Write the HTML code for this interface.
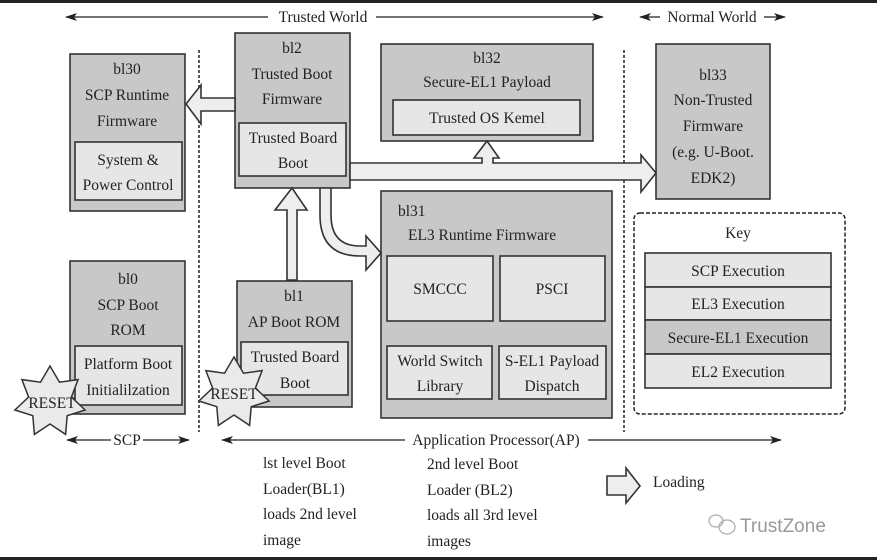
<!DOCTYPE html>
<html><head><meta charset="utf-8"><style>
html,body{margin:0;padding:0;background:#fff}
svg{display:block}
text{font-family:"Liberation Serif",serif;font-size:15.5px;fill:#222}
</style></head><body>
<svg width="877" height="560" viewBox="0 0 877 560" xmlns="http://www.w3.org/2000/svg">
<defs>
<marker id="ah" markerWidth="12" markerHeight="8" refX="11" refY="4" orient="auto-start-reverse" markerUnits="userSpaceOnUse">
<path d="M0,0 L12,4 L0,8 L3,4 Z" fill="#222"/></marker>
</defs>
<rect x="0" y="0" width="877" height="3" fill="#222"/>
<rect x="0" y="557" width="877" height="3" fill="#222"/>

<!-- world arrows -->
<line x1="66" y1="17" x2="268" y2="17" stroke="#222" stroke-width="1.2" marker-start="url(#ah)"/>
<line x1="376" y1="17" x2="603" y2="17" stroke="#222" stroke-width="1.2" marker-end="url(#ah)"/>
<text x="323" y="22" text-anchor="middle">Trusted World</text>
<line x1="640" y1="17" x2="660" y2="17" stroke="#222" stroke-width="1.2" marker-start="url(#ah)"/>
<line x1="764" y1="17" x2="785" y2="17" stroke="#222" stroke-width="1.2" marker-end="url(#ah)"/>
<text x="712" y="22" text-anchor="middle">Normal World</text>

<!-- dashed verticals -->
<line x1="199" y1="50" x2="199" y2="432" stroke="#222" stroke-width="1.5" stroke-dasharray="3,2"/>
<line x1="624" y1="50" x2="624" y2="432" stroke="#222" stroke-width="1.5" stroke-dasharray="3,2"/>

<g stroke="#333" stroke-width="1.6">
<!-- bl30 -->
<rect x="70" y="54" width="115" height="157" fill="#c8c8c8"/>
<rect x="75" y="142" width="107" height="58" fill="#e6e6e6"/>
<!-- bl2 -->
<rect x="235" y="33" width="115" height="155" fill="#c8c8c8"/>
<rect x="239" y="123" width="107" height="53" fill="#e6e6e6"/>
<!-- bl32 -->
<rect x="381" y="44" width="212" height="97" fill="#c8c8c8"/>
<rect x="393" y="100" width="187" height="35" fill="#e6e6e6"/>
<!-- bl33 -->
<rect x="656" y="44" width="114" height="155" fill="#c8c8c8"/>
<!-- bl31 -->
<rect x="381" y="191" width="231" height="227" fill="#c8c8c8"/>
<rect x="387" y="256" width="106" height="65" fill="#e6e6e6"/>
<rect x="500" y="256" width="105" height="65" fill="#e6e6e6"/>
<rect x="387" y="346" width="105" height="53" fill="#e6e6e6"/>
<rect x="499" y="346" width="107" height="53" fill="#e6e6e6"/>
<!-- bl0 -->
<rect x="70" y="261" width="115" height="153" fill="#c8c8c8"/>
<rect x="75" y="346" width="107" height="59" fill="#e6e6e6"/>
<!-- bl1 -->
<rect x="237" y="281" width="115" height="126" fill="#c8c8c8"/>
<rect x="241" y="342" width="107" height="53" fill="#e6e6e6"/>

<!-- arrows -->
<path d="M235,98 L201,98 L201,85 L186,104 L201,124 L201,111 L235,111 Z" fill="#eee"/>
<path d="M350,163 L482,163 L482,158 L474,158 L487,141 L499,158 L493,158 L493,163 L641,163 L641,155 L656,173 L641,192 L641,180 L350,180 Z" fill="#eee"/>
<path d="M287,280 L287,210 L275,210 L292,188 L307,210 L297,210 L297,280 Z" fill="#eee"/>
<path d="M320,188 L320,215 Q320,256 360,256 L366,256 L366,270 L381,253 L366,236 L366,246 L360,246 Q331,246 331,215 L331,188 Z" fill="#eee"/>
<path d="M607,476 L626,476 L626,468 L640,486 L626,503 L626,495 L607,495 Z" fill="#eee"/>
</g>

<!-- key -->
<rect x="634" y="213" width="211" height="201" rx="6" fill="none" stroke="#222" stroke-width="1.5" stroke-dasharray="4,2"/>
<g stroke="#333" stroke-width="1.6">
<rect x="645" y="253" width="186" height="34" fill="#e6e6e6"/>
<rect x="645" y="287" width="186" height="33" fill="#e6e6e6"/>
<rect x="645" y="320" width="186" height="34" fill="#c8c8c8"/>
<rect x="645" y="354" width="186" height="34" fill="#e6e6e6"/>
</g>

<!-- stars -->
<g stroke="#333" stroke-width="1.5" fill="#eaeaea">
<polygon transform="translate(50,402)" points="0,-36 9.5,-19.8 28.1,-22.4 21.4,-4.9 35.1,8 17.2,13.7 15.6,32.4 0,22 -15.6,32.4 -17.2,13.7 -35.1,8 -21.4,-4.9 -28.1,-22.4 -9.5,-19.8"/>
<polygon transform="translate(234,393)" points="0,-36 9.5,-19.8 28.1,-22.4 21.4,-4.9 35.1,8 17.2,13.7 15.6,32.4 0,22 -15.6,32.4 -17.2,13.7 -35.1,8 -21.4,-4.9 -28.1,-22.4 -9.5,-19.8"/>
</g>

<!-- bottom arrows -->
<line x1="67" y1="440" x2="111" y2="440" stroke="#222" stroke-width="1.2" marker-start="url(#ah)"/>
<line x1="143" y1="440" x2="189" y2="440" stroke="#222" stroke-width="1.2" marker-end="url(#ah)"/>
<text x="127" y="445" text-anchor="middle">SCP</text>
<line x1="222" y1="440" x2="405" y2="440" stroke="#222" stroke-width="1.2" marker-start="url(#ah)"/>
<line x1="588" y1="440" x2="781" y2="440" stroke="#222" stroke-width="1.2" marker-end="url(#ah)"/>
<text x="496" y="445" text-anchor="middle">Application Processor(AP)</text>

<!-- labels -->
<g text-anchor="middle">
<text x="127" y="74">bl30</text><text x="127" y="100">SCP Runtime</text><text x="127" y="126">Firmware</text>
<text x="128" y="165">System &amp;</text><text x="128" y="190">Power Control</text>
<text x="292" y="53">bl2</text><text x="292" y="79">Trusted Boot</text><text x="292" y="104">Firmware</text>
<text x="293" y="143">Trusted Board</text><text x="293" y="168">Boot</text>
<text x="487" y="63">bl32</text><text x="487" y="87">Secure-EL1 Payload</text>
<text x="487" y="123">Trusted OS Kemel</text>
<text x="713" y="80">bl33</text><text x="713" y="105">Non-Trusted</text><text x="713" y="131">Firmware</text><text x="713" y="157">(e.g. U-Boot.</text><text x="713" y="183">EDK2)</text>
<text x="440" y="294">SMCCC</text><text x="552" y="294">PSCI</text>
<text x="440" y="366">World Switch</text><text x="440" y="391">Library</text>
<text x="552" y="366">S-EL1 Payload</text><text x="552" y="391">Dispatch</text>
<text x="128" y="284">bl0</text><text x="128" y="310">SCP Boot</text><text x="128" y="335">ROM</text>
<text x="128" y="369">Platform Boot</text><text x="128" y="395">Initialilzation</text>
<text x="294" y="301">bl1</text><text x="294" y="327">AP Boot ROM</text>
<text x="295" y="362">Trusted Board</text><text x="295" y="388">Boot</text>
<text x="738" y="238">Key</text>
<text x="738" y="276">SCP Execution</text>
<text x="738" y="309">EL3 Execution</text>
<text x="738" y="343">Secure-EL1 Execution</text>
<text x="738" y="377">EL2 Execution</text>
<text x="52" y="408">RESET</text>
<text x="234" y="399">RESET</text>
</g>
<text x="398" y="216">bl31</text>
<text x="408" y="240">EL3 Runtime Firmware</text>

<text x="263" y="468">lst level Boot</text>
<text x="263" y="494">Loader(BL1)</text>
<text x="263" y="519">loads 2nd level</text>
<text x="263" y="545">image</text>
<text x="427" y="469">2nd level Boot</text>
<text x="427" y="495">Loader (BL2)</text>
<text x="427" y="520">loads all 3rd level</text>
<text x="427" y="546">images</text>
<text x="653" y="487">Loading</text>

<!-- watermark -->
<g fill="none" stroke="#aaa" stroke-width="1.2">
<ellipse cx="716" cy="521" rx="7" ry="6"/>
<ellipse cx="727" cy="527" rx="8" ry="7"/>
</g>
<text x="740" y="532" style="font-family:'Liberation Sans',sans-serif;font-size:19px;fill:#999">TrustZone</text>
</svg>
</body></html>
